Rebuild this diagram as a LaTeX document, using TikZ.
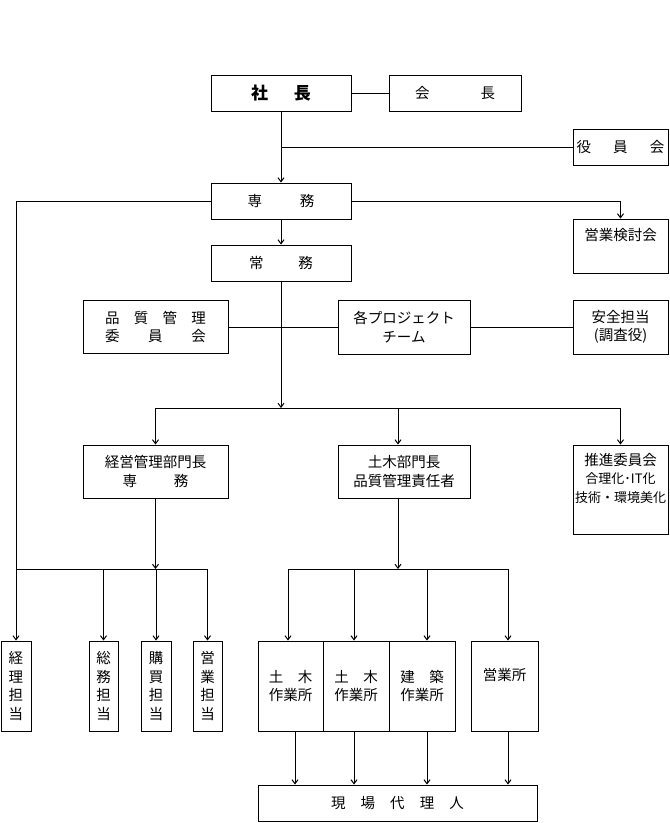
\documentclass[tikz,border=0pt]{standalone}
\usepackage{fontspec}
\setmainfont{Noto Sans CJK JP}
\usetikzlibrary{arrows.meta}

\tikzset{
  box/.style={draw, line width=1pt, inner sep=0pt, align=center},
  tate/.style={box, minimum width=30pt, minimum height=90pt},
  link/.style={line width=1pt},
  arr/.style={line width=1pt, -{Straight Barb[length=4pt,width=6pt]}},
}
\newcommand{\spread}[2]{\makebox[#1][s]{#2}}

\begin{document}
\begin{tikzpicture}[x=1pt, y=-1pt, font=\fontsize{14.5pt}{18.5pt}\selectfont]
\useasboundingbox (0,0) rectangle (670,823);

% top rows
\node[box, minimum width=140pt, minimum height=36pt, font=\fontsize{17pt}{20pt}\selectfont\bfseries] (shacho) at (281,93) {\spread{60pt}{社\hfill 長}};
\node[box, minimum width=132pt, minimum height=36pt] (kaicho) at (455,93) {\spread{80pt}{会\hfill 長}};
\node[box, minimum width=95pt, minimum height=36pt] (yakuin) at (620.5,147) {\spread{88pt}{役\hfill 員\hfill 会}};
\node[box, minimum width=140pt, minimum height=36pt] (senmu) at (281,201) {\spread{67pt}{専\hfill 務}};
\node[box, minimum width=95pt, minimum height=54pt] (kento) at (620.5,246) {営業検討会\\\strut};
\node[box, minimum width=140pt, minimum height=36pt] (jomu) at (281,263) {\spread{64pt}{常\hfill 務}};

% committees
\node[box, minimum width=145pt, minimum height=53pt] (hinshitsu) at (155.5,327) {\spread{101pt}{品\hfill 質\hfill 管\hfill 理}\\\spread{101pt}{委\hfill 員\hfill 会}};
\node[box, minimum width=132pt, minimum height=54pt] (project) at (404,327) {各プロジェクト\\チーム};
\node[box, minimum width=95pt, minimum height=54pt] (anzen) at (620.5,327) {安全担当\\(調査役)};

% departments
\node[box, minimum width=145pt, minimum height=53pt] (keiei) at (155.5,471.5) {経営管理部門長\\\spread{66pt}{専\hfill 務}};
\node[box, minimum width=132pt, minimum height=53pt] (doboku) at (404,471.5) {土木部門長\\品質管理責任者};
\node[box, minimum width=95pt, minimum height=89pt] (suishin) at (620.5,489.5) {推進委員会\\{\fontsize{13pt}{18.5pt}\selectfont 合理化･IT化}\\{\fontsize{13pt}{18.5pt}\selectfont 技術・環境美化}\\\strut};

% staff
\node[tate] (keiri) at (16,686) {経\\理\\担\\当};
\node[tate, minimum width=29pt] (somu) at (103.5,686) {総\\務\\担\\当};
\node[tate] (kobai) at (156,686) {購\\買\\担\\当};
\node[tate, minimum width=29pt] (eitan) at (207.5,686) {営\\業\\担\\当};

% sites
\node[box, minimum width=65pt, minimum height=90pt] (sagyo1) at (290.5,686) {土　木\\作業所};
\node[box, minimum width=66pt, minimum height=90pt] (sagyo2) at (356,686) {土　木\\作業所};
\node[box, minimum width=66pt, minimum height=90pt] (kenchiku) at (422,686) {建　築\\作業所};
\node[box, minimum width=67pt, minimum height=90pt] (eigyosho) at (504.5,686) {営業所\\\strut};
\node[box, minimum width=279pt, minimum height=36pt] (genba) at (397.5,803) {\spread{133pt}{現\hfill 場\hfill 代\hfill 理\hfill 人}};

% connectors
\draw[link] (shacho) -- (kaicho);
\draw[arr] (shacho) -- (senmu);
\coordinate (yk) at (shacho.south |- yakuin.west);
\draw[link] (yk) -- (yakuin);
\draw[arr] (senmu) -| (kento);
\draw[arr] (senmu) -| (keiri);
\draw[arr] (senmu) -- (jomu);
\draw[link] (hinshitsu) -- (project);
\draw[link] (project) -- (anzen);

\coordinate (b1) at (281,408);
\coordinate (b1l) at (keiei.north |- b1);
\coordinate (b1m) at (398,408);
\coordinate (b1r) at (suishin.north |- b1);
\draw[arr] (jomu) -- (b1);
\draw[link] (b1l) -- (b1r);
\draw[arr] (b1l) -- (keiei);
\draw[arr] (b1m) -- (b1m |- doboku.north);
\draw[arr] (b1r) -- (suishin);

\coordinate (b2) at (155.5,569);
\draw[arr] (keiei) -- (b2);
\draw[link] (keiri.north |- b2) -- (eitan.north |- b2);
\draw[arr] (somu.north |- b2) -- (somu);
\draw[arr] (kobai.north |- b2) -- (kobai);
\draw[arr] (eitan.north |- b2) -- (eitan);

\coordinate (b3) at (398,569);
\coordinate (t1) at (288,569);
\coordinate (t2) at (354,569);
\coordinate (t3) at (427,569);
\coordinate (t4) at (508,569);
\draw[arr] (b1m |- doboku.south) -- (b3);
\draw[link] (t1) -- (t4);
\draw[arr] (t1) -- (t1 |- sagyo1.north);
\draw[arr] (t2) -- (t2 |- sagyo2.north);
\draw[arr] (t3) -- (t3 |- kenchiku.north);
\draw[arr] (t4) -- (t4 |- eigyosho.north);

\coordinate (u1) at (295,0);
\draw[arr] (u1 |- sagyo1.south) -- (u1 |- genba.north);
\draw[arr] (t2 |- sagyo2.south) -- (t2 |- genba.north);
\draw[arr] (t3 |- kenchiku.south) -- (t3 |- genba.north);
\draw[arr] (t4 |- eigyosho.south) -- (t4 |- genba.north);
\end{tikzpicture}
\end{document}
